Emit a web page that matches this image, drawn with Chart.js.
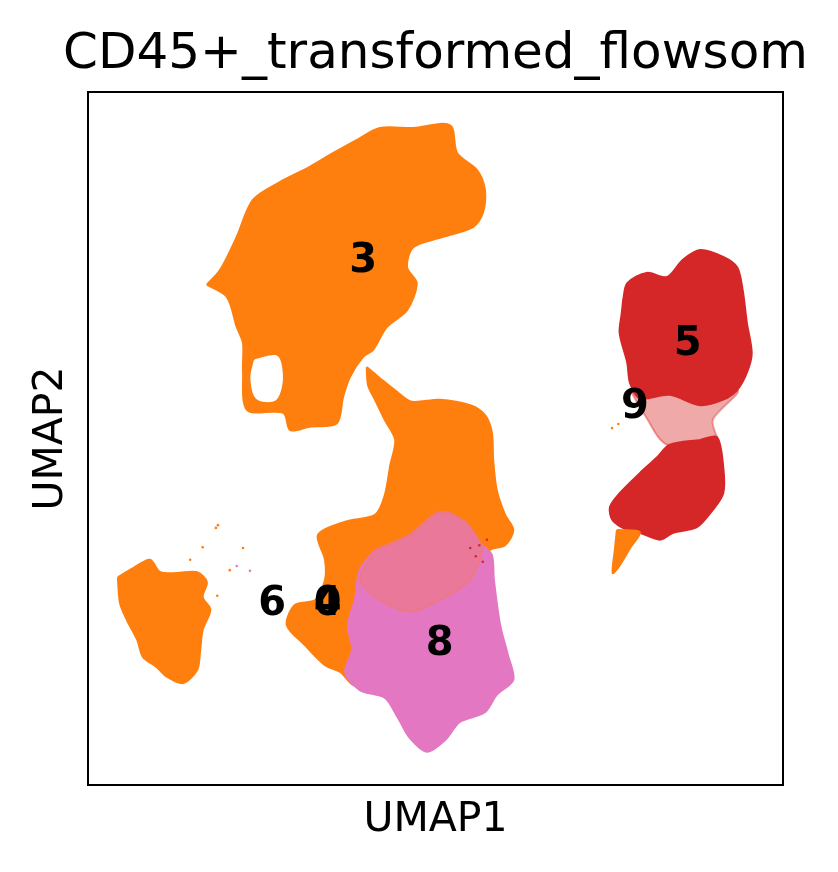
<!DOCTYPE html>
<html>
<head>
<meta charset="utf-8">
<script src="https://cdn.jsdelivr.net/npm/chart.js@4.4.1/dist/chart.umd.min.js"></script>
<style>
  html, body { margin: 0; padding: 0; background: #fff; }
  canvas { display: block; }
</style>
</head>
<body>
<canvas id="umap" width="838" height="872"></canvas>
<script>
const chartTitle = 'CD45+_transformed_flowsom';

// cluster outlines traced from the UMAP embedding (plot units, 0-100 on both axes)
const cluster3X = [17.1, 19.0, 21.4, 23.7, 27.6, 31.9, 35.3, 38.7, 42.0, 46.8, 52.1, 53.1, 56.0, 57.1, 56.8, 55.4, 51.1, 46.8, 45.9, 47.3, 45.9, 43.0, 41.0, 39.6, 37.7, 36.7, 35.8, 31.9, 29.1, 28.1, 22.9, 22.3, 22.3, 21.4, 20.0];
const cluster3Y = [72.2, 74.3, 79.1, 84.4, 87.0, 89.2, 91.2, 93.1, 94.8, 94.8, 95.2, 91.2, 88.7, 85.9, 82.5, 80.5, 79.1, 77.6, 74.7, 72.4, 68.5, 66.1, 62.8, 61.8, 58.9, 56.0, 52.2, 51.7, 51.2, 53.7, 54.1, 59.9, 63.8, 66.1, 70.4];

const holeX = [24.0, 27.2, 27.9, 26.9, 24.3, 23.5];
const holeY = [61.3, 61.8, 58.4, 55.6, 55.8, 58.7];

const midOrangeX = [40.1, 42.0, 44.5, 46.6, 50.6, 55.0, 57.1, 58.1, 58.3, 58.8, 60.0, 61.2, 60.0, 57.8, 55.0, 47.8, 40.6, 38.4, 36.3, 34.1, 31.2, 28.6, 29.8, 32.7, 34.1, 34.1, 33.1, 37.0, 41.3, 42.7, 43.5, 44.2, 42.7, 41.3, 40.3];
const midOrangeY = [60.3, 58.7, 56.7, 55.3, 55.6, 54.8, 53.4, 50.9, 46.9, 42.6, 39.0, 36.8, 34.6, 33.9, 29.6, 26.7, 18.0, 14.4, 16.3, 17.3, 20.2, 23.1, 26.0, 26.7, 29.6, 32.5, 36.1, 38.0, 39.0, 41.8, 46.2, 49.8, 52.7, 55.6, 57.7];

const cluster8X = [41.3, 46.3, 50.6, 54.2, 56.7, 58.1, 58.4, 59.3, 60.4, 61.2, 58.8, 57.1, 53.5, 51.4, 48.8, 46.3, 44.6, 42.7, 39.1, 37.0, 38.0, 37.4, 38.4, 39.1];
const cluster8Y = [33.9, 36.1, 39.4, 38.0, 34.6, 33.2, 29.6, 23.1, 18.8, 15.2, 13.0, 10.5, 9.1, 6.5, 4.8, 6.8, 9.7, 12.6, 13.7, 16.3, 19.5, 23.1, 26.7, 31.0];

// upper part of cluster 8 where orange cells are mixed in
const mixX = [41.3, 46.3, 50.6, 54.2, 56.7, 55.0, 50.6, 46.3, 42.0, 39.1];
const mixY = [33.9, 36.1, 39.4, 38.0, 34.6, 29.6, 26.7, 25.0, 26.7, 29.6];

const leftBlobX = [4.3, 6.5, 8.9, 10.4, 12.8, 15.7, 17.1, 16.5, 17.6, 16.5, 16.1, 15.7, 13.7, 11.4, 9.9, 7.9, 7.1, 5.6, 4.6];
const leftBlobY = [30.0, 31.3, 32.5, 30.7, 30.6, 30.7, 29.3, 27.1, 25.3, 22.4, 19.0, 16.6, 14.7, 15.6, 17.0, 18.5, 20.9, 23.8, 26.3];

const cluster5TopX = [77.0, 77.6, 80.4, 83.3, 85.6, 88.1, 91.4, 93.4, 94.2, 94.8, 95.5, 94.8, 93.4, 91.4, 88.1, 83.7, 79.4, 78.0, 77.6, 76.5, 76.8];
const cluster5TopY = [70.0, 72.4, 73.9, 73.3, 75.8, 77.2, 76.2, 74.7, 71.4, 66.7, 62.3, 59.5, 57.0, 55.6, 54.8, 56.3, 55.8, 58.0, 60.9, 65.2, 68.1];

const cluster5MidX = [78.0, 93.4, 89.9, 90.5, 83.3, 80.1];
const cluster5MidY = [57.0, 57.0, 52.7, 49.1, 49.1, 53.4];

const cluster5LowX = [88.1, 90.5, 91.4, 91.4, 89.9, 87.6, 84.2, 82.3, 79.4, 77.6, 75.5, 75.1, 76.5, 79.4, 81.9, 83.7];
const cluster5LowY = [49.8, 50.2, 45.9, 42.1, 39.7, 37.2, 36.4, 35.4, 36.4, 36.8, 38.2, 40.1, 42.1, 45.0, 47.3, 49.1];

const tailX = [76.1, 79.4, 78.0, 76.5, 75.5, 75.8];
const tailY = [36.8, 36.5, 34.2, 31.7, 30.6, 33.9];

// loose cells outside the main islands
const strayOrangeX = [75.4, 76.3, 14.7, 16.5, 18.4, 18.7, 20.4, 22.3, 18.6];
const strayOrangeY = [51.5, 52.1, 32.5, 34.3, 37.1, 37.5, 31.0, 34.2, 27.3];
const strayPinkX = [21.4, 23.3];
const strayPinkY = [31.6, 30.9];
const strayRedX = [55.0, 55.8, 56.3, 56.8, 57.4];
const strayRedY = [34.2, 33.0, 34.6, 32.2, 35.4];

// cluster numbers placed at the cluster centres
const clusterLabels = ['3', '5', '9', '8', '6', '0', '4'];
const labelX = [39.6, 86.3, 78.7, 50.6, 26.5, 34.5, 34.5];
const labelY = [75.5, 63.6, 54.5, 20.2, 26.0, 26.0, 26.0];

const ORANGE = '#ff7f0e';
const RED = '#d62728';
const PINK = '#e377c2';

function toPoints(xs, ys, close) {
    const pts = xs.map((x, i) => ({x: x, y: ys[i]}));
    if (close) pts.push({x: xs[0], y: ys[0]});
    return pts;
}

function blob(xs, ys, color, order) {
    return {
        data: toPoints(xs, ys, true),
        borderColor: color,
        backgroundColor: color,
        borderWidth: 2,
        fill: 'shape',
        tension: 0.3,
        pointRadius: 0,
        order: order
    };
}

function dots(xs, ys, color, order) {
    return {
        data: toPoints(xs, ys, false),
        showLine: false,
        pointRadius: 1.3,
        pointBorderWidth: 0,
        pointBackgroundColor: color,
        order: order
    };
}

const clusterText = {
    id: 'clusterText',
    afterDatasetsDraw(chart) {
        const {ctx, scales: {x, y}} = chart;
        ctx.save();
        ctx.font = 'bold 40px "DejaVu Sans"';
        ctx.fillStyle = '#000';
        ctx.textAlign = 'center';
        ctx.textBaseline = 'middle';
        clusterLabels.forEach((t, i) => {
            ctx.fillText(t, x.getPixelForValue(labelX[i]), y.getPixelForValue(labelY[i]));
        });
        ctx.restore();
    }
};

// frame round the axes plus the title centred over the plot area
const frame = {
    id: 'frame',
    afterDraw(chart) {
        const {ctx, chartArea: a} = chart;
        ctx.save();
        ctx.strokeStyle = '#000';
        ctx.lineWidth = 2;
        ctx.strokeRect(a.left, a.top, a.right - a.left, a.bottom - a.top);
        ctx.font = '50px "DejaVu Sans"';
        ctx.fillStyle = '#000';
        ctx.textAlign = 'center';
        ctx.textBaseline = 'alphabetic';
        ctx.fillText(chartTitle, (a.left + a.right) / 2, a.top - 24);
        ctx.restore();
    }
};

new Chart(document.getElementById('umap'), {
    type: 'line',
    data: {
        datasets: [
            dots(strayOrangeX, strayOrangeY, ORANGE, 1),
            dots(strayPinkX, strayPinkY, PINK, 1),
            dots(strayRedX, strayRedY, RED, 1),
            blob(tailX, tailY, ORANGE, 2),
            blob(mixX, mixY, 'rgba(255,127,14,0.22)', 3),
            blob(cluster8X, cluster8Y, PINK, 4),
            blob(midOrangeX, midOrangeY, ORANGE, 5),
            blob(holeX, holeY, '#ffffff', 6),
            blob(cluster3X, cluster3Y, ORANGE, 7),
            blob(cluster5LowX, cluster5LowY, RED, 8),
            blob(cluster5MidX, cluster5MidY, 'rgba(214,39,40,0.4)', 9),
            blob(cluster5TopX, cluster5TopY, RED, 10),
            blob(leftBlobX, leftBlobY, ORANGE, 11)
        ]
    },
    options: {
        responsive: false,
        animation: false,
        devicePixelRatio: 1,
        layout: { padding: { left: 0, right: 55, top: 92, bottom: 0 } },
        plugins: {
            legend: { display: false },
            tooltip: { enabled: false },
            title: { display: false }
        },
        scales: {
            x: {
                type: 'linear',
                min: 0,
                max: 100,
                grid: { display: false, drawTicks: false },
                border: { display: false },
                ticks: { display: false },
                title: {
                    display: true,
                    text: 'UMAP1',
                    color: '#000',
                    font: { family: 'DejaVu Sans', size: 41, lineHeight: 1.2 },
                    padding: { top: 11, bottom: 26.8 }
                }
            },
            y: {
                type: 'linear',
                min: 0,
                max: 100,
                grid: { display: false, drawTicks: false },
                border: { display: false },
                ticks: { display: false },
                title: {
                    display: true,
                    text: 'UMAP2',
                    color: '#000',
                    font: { family: 'DejaVu Sans', size: 41, lineHeight: 1.2 },
                    padding: { top: 26.5, bottom: 12.3 }
                }
            }
        }
    },
    plugins: [clusterText, frame]
});
</script>
</body>
</html>
